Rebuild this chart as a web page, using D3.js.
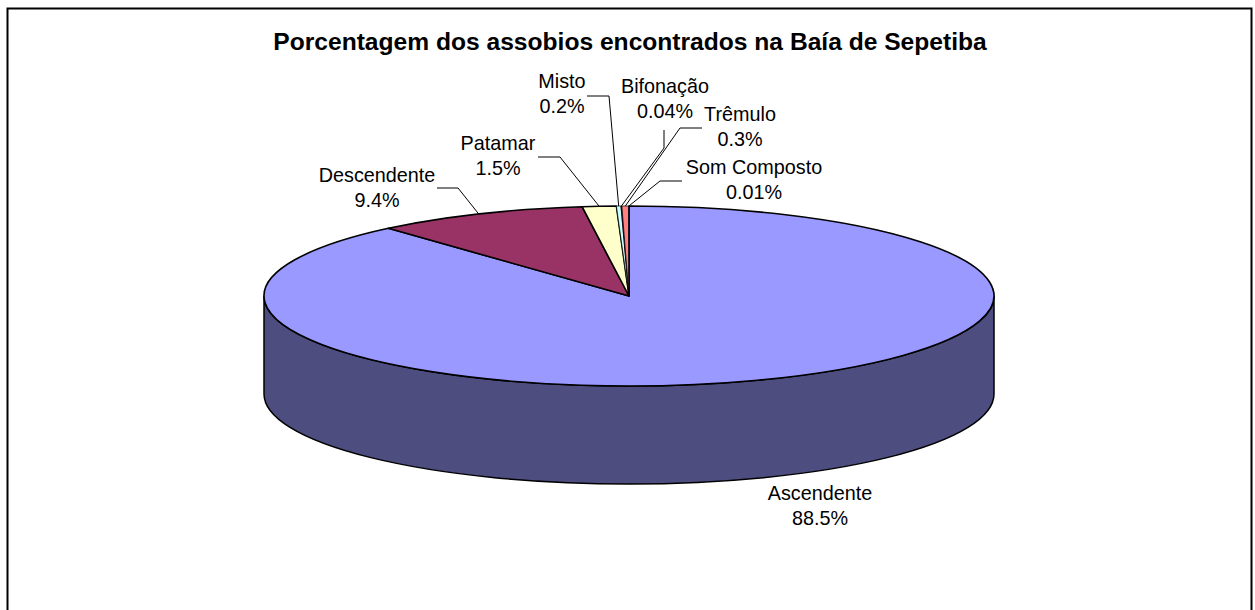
<!DOCTYPE html>
<html><head><meta charset="utf-8">
<script src="https://cdn.jsdelivr.net/npm/d3@7/dist/d3.min.js"></script>
<style>html,body{margin:0;padding:0;background:#fff}svg{display:block}text{font-family:"Liberation Sans",Arial,sans-serif;fill:#000}</style>
</head><body><svg id="c" width="1255" height="610"></svg>
<script>
const categories=["Ascendente","Descendente","Patamar","Misto","Bifonação","Trêmulo","Som Composto"];
const values=[88.5,9.4,1.5,0.2,0.04,0.3,0.01];
const valueLabels=["88.5%","9.4%","1.5%","0.2%","0.04%","0.3%","0.01%"];
const colors=["#9999FF","#993366","#FFFFCC","#CCFFFF","#660066","#FF8080","#0066CC"];
const titleText="Porcentagem dos assobios encontrados na Baía de Sepetiba";

// layout
const cx=629,cy=296,rx=365,ry=90,depth=98;
const labelPos=[[820,500],[377,182],[498,150],[562,88],[665,93],[740,121],[754,174]];
const elbows=[null,[[437,188],[458,188]],[[538,157],[560,157]],[[587,96],[609,96]],[[664,130],[664,148]],[[702,128],[680,128]],[[682,181],[660,181]]];

const svg=d3.select("#c");
svg.append("path").attr("d","M7.5,610V8.5H1251.5V610").attr("fill","none").attr("stroke","#000").attr("stroke-width",2);
svg.append("text").attr("x",630).attr("y",50).attr("text-anchor","middle").attr("font-size",24.6).attr("font-weight","bold").text(titleText);

const pie=d3.pie().sort(null).value(d=>d)(values);
const px=d3.scaleLinear().domain([0,1]).range([cx,cx+rx]);
const py=d3.scaleLinear().domain([0,1]).range([cy,cy-ry]);
const pt=a=>[px(Math.sin(a)),py(Math.cos(a))];

svg.append("path")
 .attr("d",`M${cx-rx},${cy}V${cy+depth}A${rx},${ry} 0 0 0 ${cx+rx},${cy+depth}V${cy}A${rx},${ry} 0 0 1 ${cx-rx},${cy}Z`)
 .attr("fill","#4D4D80").attr("stroke","#000").attr("stroke-width",1.5);

svg.selectAll("path.s").data(pie).join("path").attr("class","s")
 .attr("d",d=>{const p0=pt(d.startAngle),p1=pt(d.endAngle);
   const large=(d.endAngle-d.startAngle)>Math.PI?1:0;
   return `M${cx},${cy}L${p0[0]},${p0[1]}A${rx},${ry} 0 ${large} 1 ${p1[0]},${p1[1]}Z`;})
 .attr("fill",(d,i)=>colors[i]).attr("stroke","#000")
 .attr("stroke-width",(d,i)=>i<3?1.6:0.7).attr("stroke-linejoin","round");

pie.forEach((d,i)=>{ if(!elbows[i])return;
  const m=pt((d.startAngle+d.endAngle)/2);
  const pts=elbows[i].concat([m]);
  svg.append("path").attr("d",d3.line()(pts)).attr("fill","none").attr("stroke","#000").attr("stroke-width",1);
});
categories.forEach((c,i)=>{
  const t=svg.append("text").attr("text-anchor","middle").attr("font-size",19.8);
  t.append("tspan").attr("x",labelPos[i][0]).attr("y",labelPos[i][1]).text(c);
  t.append("tspan").attr("x",labelPos[i][0]).attr("dy",25).text(valueLabels[i]);
});
</script></body></html>
